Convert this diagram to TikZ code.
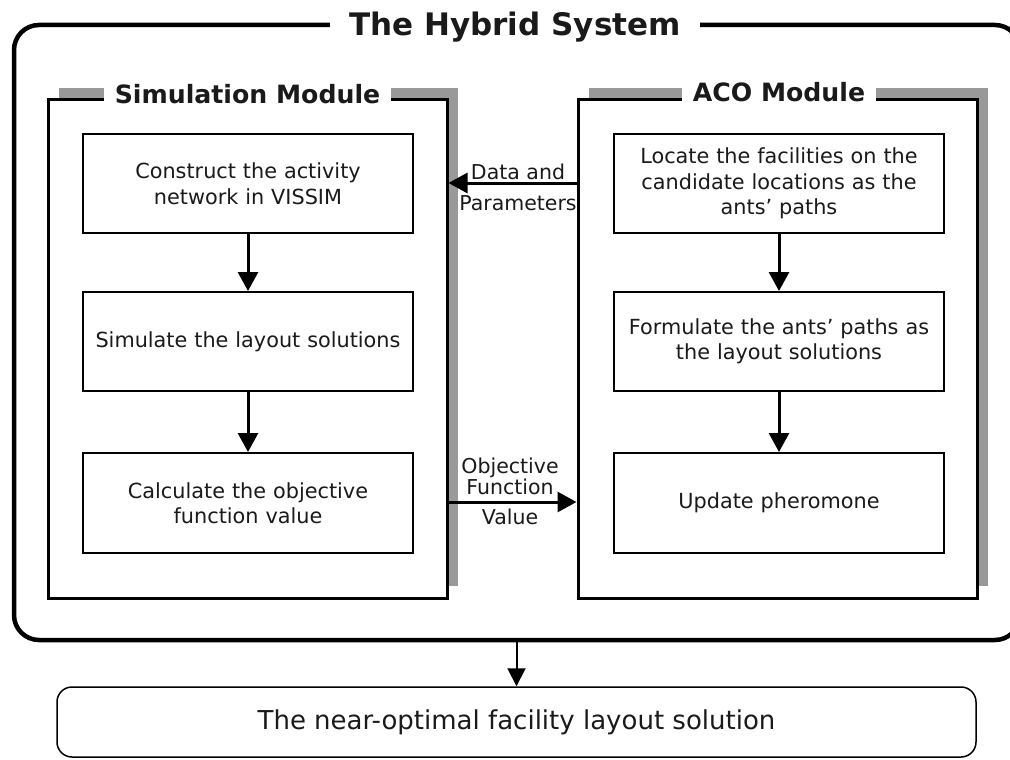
\documentclass[tikz,border=0pt]{standalone}
\usepackage{fontspec}
\setmainfont{DejaVu Sans}
\usetikzlibrary{arrows.meta}
\definecolor{shadowgray}{RGB}{153,153,153}
\definecolor{txt}{RGB}{26,26,26}
\begin{document}
\begin{tikzpicture}[x=1pt,y=-1pt,
  stepbox/.style={draw=black, line width=2pt, fill=white, minimum width=330pt,
    text width=320pt, align=center, font=\fontsize{20.8}{25.5}\selectfont,
    text=txt, inner sep=0pt},
  module/.style={draw=black, line width=3pt, fill=white, minimum width=399pt,
    minimum height=498pt, inner sep=0pt},
  modshadow/.style={fill=shadowgray, draw=none, minimum width=399pt,
    minimum height=498pt, inner sep=0pt},
  modtitle/.style={fill=white, font=\bfseries\fontsize{25.2}{30}\selectfont,
    text=txt, inner xsep=11pt, inner ysep=4pt, anchor=base},
  arr/.style={line width=3pt, -{Triangle[length=19pt,width=20pt]}},
  arrthin/.style={line width=2pt, -{Triangle[length=18pt,width=18pt]}},
  lbl/.style={font=\fontsize{20.5}{24}\selectfont, text=txt, anchor=base,
    inner sep=0pt}
]
\useasboundingbox (0,0) rectangle (1010,760);
\begin{scope}
\clip (0,0) rectangle (1010,760);

% outer hybrid system frame (its right side runs off the picture)
\node[draw=black, line width=4.5pt, rounded corners=25pt, minimum width=1006pt,
  minimum height=615pt, inner sep=0pt] (hyb) at (517,332.5) {};
\node[fill=white, font=\bfseries\fontsize{31}{36}\selectfont, text=txt,
  inner xsep=19.5pt, inner ysep=4pt, anchor=base] (hybt) at (515,36)
  {The Hybrid System};

% module shadows and frames
\node[modshadow] (simsh) at (258.5,337) {};
\node[modshadow] (acosh) at (788.5,337) {};
\node[module] (sim) at (247.5,349) {};
\node[module] (aco) at (777.5,349) {};
\node[modtitle] (simt) at (247.5,103) {Simulation Module};
\node[modtitle] (acot) at (779,102) {ACO Module};

% simulation steps
\node[stepbox, minimum height=99pt] (s1) at (248,183.5)
  {Construct the activity\\network in VISSIM};
\node[stepbox, minimum height=99pt] (s2) at (248,341.5)
  {Simulate the layout solutions};
\node[stepbox, minimum height=100pt] (s3) at (248,503)
  {Calculate the objective\\function value};

% ACO steps
\node[stepbox, minimum height=99pt] (a1) at (779,183.5)
  {Locate the facilities on the\\candidate locations as the\\ants’ paths};
\node[stepbox, minimum height=99pt] (a2) at (779,341.5)
  {Formulate the ants’ paths as\\the layout solutions};
\node[stepbox, minimum height=100pt] (a3) at (779,503)
  {Update pheromone};

% arrows inside modules
\draw[arr] (s1.south) -- (s2.north);
\draw[arr] (s2.south) -- (s3.north);
\draw[arr] (a1.south) -- (a2.north);
\draw[arr] (a2.south) -- (a3.north);

% arrows between modules
\draw[arr] (aco.west |- 0,183) -- (sim.east |- 0,183);
\draw[arr] (sim.east |- 0,502) -- (aco.west |- 0,502);

% labels
\node[lbl] (dl1) at (518,179) {Data and};
\node[lbl] (dl2) at (518,210) {Parameters};
\node[lbl] (ol1) at (510,473) {Objective};
\node[lbl] (ol2) at (510,494) {Function};
\node[lbl] (ol3) at (510,524) {Value};

% final result
\node[draw=black, line width=1.5pt, rounded corners=15pt, minimum width=919pt,
  minimum height=70pt, inner sep=0pt, font=\fontsize{26}{30}\selectfont,
  text=txt] (final) at (516.5,722) {The near-optimal facility layout solution};
\draw[arrthin] (final.north |- hyb.south) -- (final.north);
\end{scope}
\end{tikzpicture}
\end{document}
